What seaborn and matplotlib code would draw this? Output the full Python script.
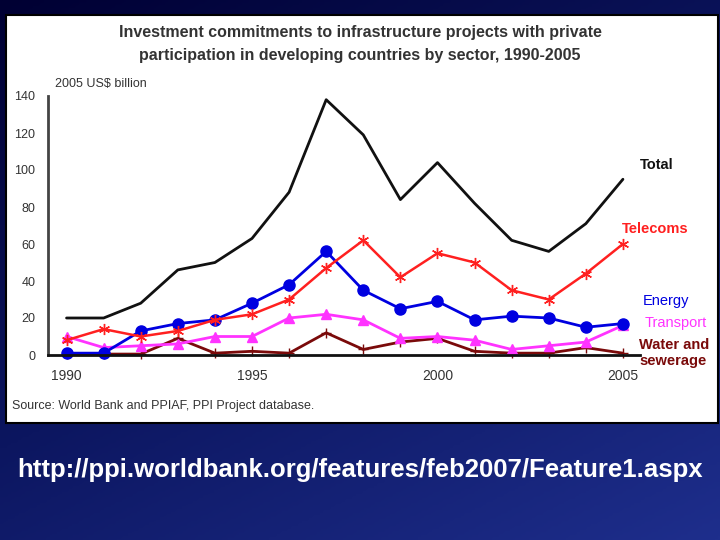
import numpy as np
import pandas as pd
import seaborn as sns
import matplotlib
matplotlib.use("Agg")
import matplotlib.pyplot as plt
from matplotlib.patches import Rectangle

# data (2005 US$ billion)
years = list(range(1990, 2006))
total = [20, 20, 28, 46, 50, 63, 88, 138, 119, 84, 104, 82, 62, 56, 71, 95]
telecoms = [8, 14, 10, 13, 19, 22, 30, 47, 62, 42, 55, 50, 35, 30, 44, 60]
energy = [1, 1, 13, 17, 19, 28, 38, 56, 35, 25, 29, 19, 21, 20, 15, 17]
transport = [10, 4, 5, 6, 10, 10, 20, 22, 19, 9, 10, 8, 3, 5, 7, 16]
water = [0.5, 0.5, 0.5, 9, 1, 2, 1, 12, 3, 7, 9, 2, 1, 1, 4, 1]
y_ticks = [0, 20, 40, 60, 80, 100, 120, 140]
x_ticks = [1990, 1995, 2000, 2005]

sns.set_style("white")
plt.rcParams['font.family'] = ['Liberation Sans', 'DejaVu Sans']

fig = plt.figure(figsize=(7.2, 5.4), dpi=100)

# slide background gradient
bg = fig.add_axes([0, 0, 1, 1], zorder=-10)
gx, gy = np.meshgrid(np.linspace(0, 1, 200), np.linspace(0, 1, 200))
grad = 0.6 * gy + 0.4 * gx
cmap = matplotlib.colors.LinearSegmentedColormap.from_list("slide", ["#000033", "#0c1660", "#1e2e8c"])
bg.imshow(grad, cmap=cmap, aspect="auto", extent=[0, 1, 0, 1], origin="upper")
bg.set_axis_off()

# white chart panel
fig.patches.append(Rectangle((6 / 720, 1 - 423 / 540), 712 / 720, 408 / 540,
                             transform=fig.transFigure, facecolor="white",
                             edgecolor="black", linewidth=1.5, zorder=-5))

ax = fig.add_axes([48 / 720, 1 - 355 / 540, 592 / 720, 259 / 540])
ax.set_facecolor("none")

df = pd.DataFrame({"year": years, "Total": total, "Telecoms": telecoms,
                   "Energy": energy, "Transport": transport, "Water": water})

series = [
    ("Total", "#111111", None, 8, 2.0, 1),
    ("Telecoms", "#ff2020", (6, 2, 0), 8, 1.8, 1.0),
    ("Energy", "#0000e0", "o", 8, 2.0, 1),
    ("Transport", "#ff33ff", "^", 7, 2.0, 1),
    ("Water", "#7a0a0a", "+", 7, 2.0, 1),
]
for name, col, mk, ms, lw, mew in series[::-1]:
    sns.lineplot(data=df, x="year", y=name, color=col, marker=mk, markersize=ms,
                 linewidth=lw, markeredgecolor=col, markeredgewidth=mew, ax=ax, clip_on=False)

ax.set_xlim(1989.5, 2005.46)
ax.set_ylim(0, 140)
ax.set_yticks(y_ticks)
ax.set_xticks(x_ticks)
ax.set_xlabel("")
ax.set_ylabel("")
ax.tick_params(axis="y", length=3, width=1, color="#333333", labelsize=9, labelcolor="#333333", pad=6)
ax.tick_params(axis="x", length=0, labelsize=10, labelcolor="#333333", pad=10)
for s in ["top", "right"]:
    ax.spines[s].set_visible(False)
ax.spines["left"].set_color("#444444")
ax.spines["left"].set_linewidth(2)
ax.spines["bottom"].set_color("#111111")
ax.spines["bottom"].set_linewidth(2)

# series labels
fs = 10.5
fig.text(640 / 720, 1 - 165 / 540, "Total", color="#111111", fontsize=fs, fontweight="bold", va="center")
fig.text(622 / 720, 1 - 229 / 540, "Telecoms", color="#ff2020", fontsize=fs, fontweight="bold", va="center")
fig.text(643 / 720, 1 - 301 / 540, "Energy", color="#0000e0", fontsize=fs, va="center")
fig.text(645 / 720, 1 - 323 / 540, "Transport", color="#ff33ff", fontsize=fs, va="center")
fig.text(639 / 720, 1 - 353 / 540, "Water and\nsewerage", color="#7a0a0a", fontsize=fs,
         fontweight="bold", va="center", linespacing=1.25)

fig.text(360 / 720, 1 - 44 / 540,
         "Investment commitments to infrastructure projects with private\n"
         "participation in developing countries by sector, 1990-2005",
         ha="center", va="center", fontsize=11.5, fontweight="bold", color="#333333", linespacing=1.6)
fig.text(55 / 720, 1 - 84 / 540, "2005 US$ billion", fontsize=9, color="#333333", va="center")
fig.text(12 / 720, 1 - 406 / 540, "Source: World Bank and PPIAF, PPI Project database.",
         fontsize=9, color="#333333", va="center")

fig.text(360 / 720, 1 - 470 / 540, "http://ppi.worldbank.org/features/feb2007/Feature1.aspx",
         ha="center", va="center", fontsize=18.5, fontweight="bold", color="white")

fig.savefig("out.png", dpi=100)
